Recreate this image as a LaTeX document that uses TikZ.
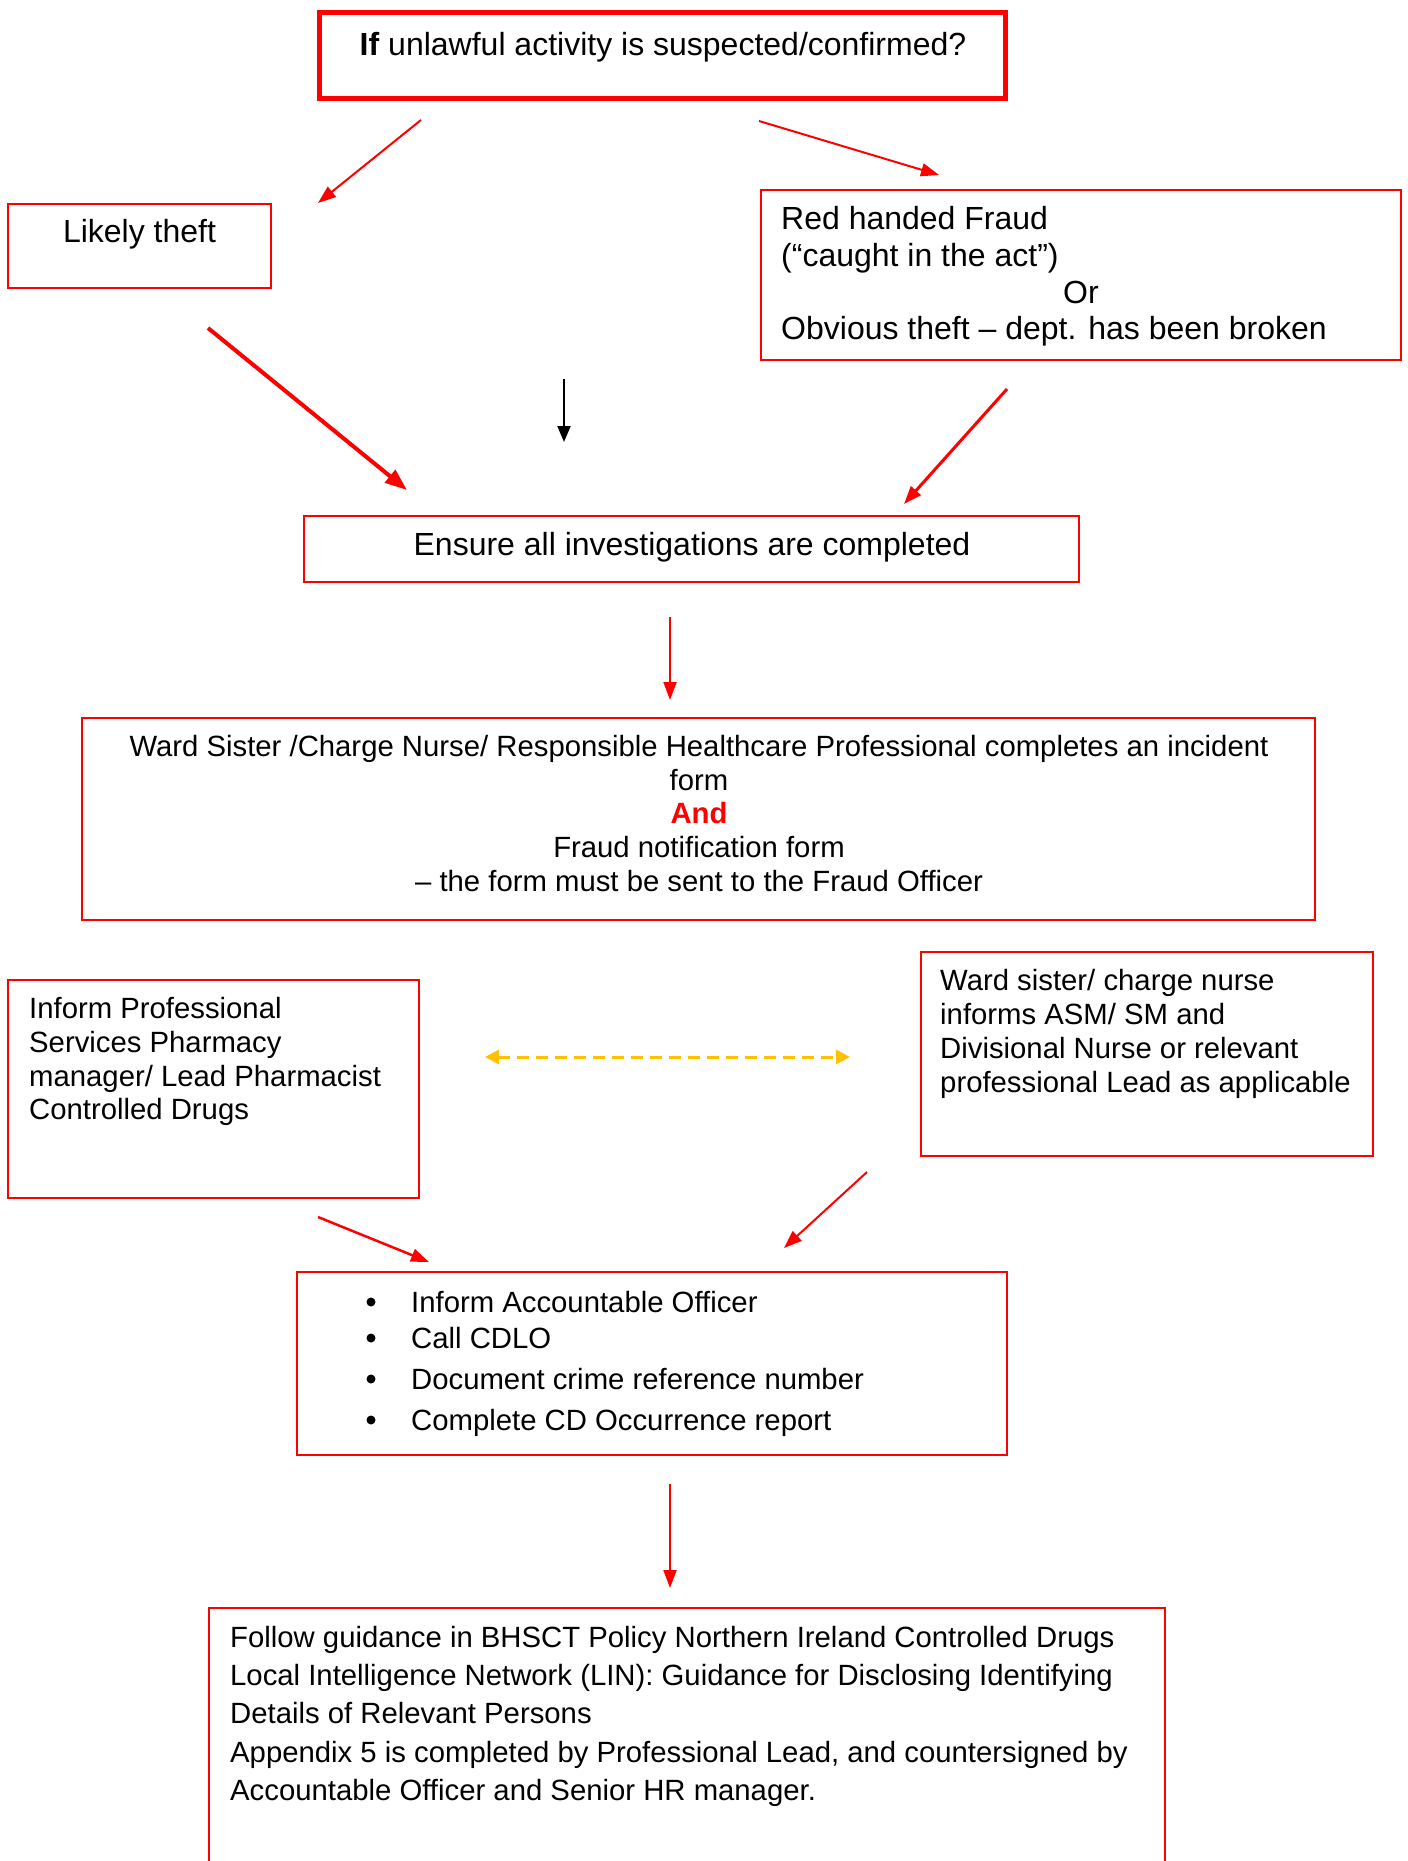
\documentclass[tikz,border=0pt]{standalone}
\usepackage{fontspec}
\setmainfont{Liberation Sans}
\usetikzlibrary{arrows.meta}
\definecolor{flowred}{RGB}{255,0,0}
\definecolor{linkgold}{RGB}{255,192,0}
\begin{document}
\begin{tikzpicture}[x=1pt,y=-1pt,
  box/.style={draw=flowred,line width=2pt,rectangle,inner sep=0pt},
  txt/.style={anchor=base west,inner sep=0pt,font=\fontsize{32}{38}\selectfont},
  ctxt/.style={txt,anchor=base},
  stxt/.style={anchor=base west,inner sep=0pt,font=\fontsize{29.3}{35}\selectfont},
  cstxt/.style={stxt,anchor=base},
  flow/.style={draw=flowred,line width=2pt,-{Triangle[length=18pt,width=13pt]}},
  dot/.style={circle,fill=black,inner sep=0pt,minimum size=9pt}]
\clip (0,0) rectangle (1408,1861);
\fill[white] (0,0) rectangle (1408,1861);

% boxes
\node[box,line width=5pt,minimum width=686pt,minimum height=86pt] (q) at (662.5,55.5) {};
\node[box,minimum width=263pt,minimum height=84pt] (theft) at (139.5,246) {};
\node[box,minimum width=640pt,minimum height=170pt] (fraud) at (1081,275) {};
\node[box,minimum width=775pt,minimum height=66pt] (ensure) at (691.5,549) {};
\node[box,minimum width=1233pt,minimum height=202pt] (ward) at (698.5,819) {};
\node[box,minimum width=411pt,minimum height=218pt] (pharm) at (213.5,1089) {};
\node[box,minimum width=452pt,minimum height=204pt] (nurse) at (1147,1054) {};
\node[box,minimum width=710pt,minimum height=183pt] (acts) at (652,1363.5) {};
\node[box,minimum width=956pt,minimum height=352pt] (guide) at (687,1784) {};

% texts, upper part
\node[ctxt] (tq) at (663,55) {\textbf{If} unlawful activity is suspected/confirmed?};
\node[ctxt] (tt) at (139.5,242) {Likely theft};
\node[txt] (tf1) at (781,229) {Red handed Fraud};
\node[txt] (tf2) at (781,266) {(“caught in the act”)};
\node[txt] (tf3) at (1063,303) {Or};
\node[txt] (tf4) at (781,339) {Obvious theft – dept. has been broken};
\node[ctxt] (te) at (692,555) {Ensure all investigations are completed};

% texts, lower part
\node[cstxt] (tw1) at (699,756) {Ward Sister /Charge Nurse/ Responsible Healthcare Professional completes an incident};
\node[cstxt] (tw2) at (699,790) {form};
\node[cstxt,text=flowred] (tw3) at (699,823) {\textbf{And}};
\node[cstxt] (tw4) at (699,857) {Fraud notification form};
\node[cstxt] (tw5) at (699,891) {– the form must be sent to the Fraud Officer};
\node[stxt] (tp1) at (29,1018) {Inform Professional};
\node[stxt] (tp2) at (29,1052) {Services Pharmacy};
\node[stxt] (tp3) at (29,1086) {manager/ Lead Pharmacist};
\node[stxt] (tp4) at (29,1119) {Controlled Drugs};
\node[stxt] (tn1) at (940,990) {Ward sister/ charge nurse};
\node[stxt] (tn2) at (940,1024) {informs ASM/ SM and};
\node[stxt] (tn3) at (940,1058) {Divisional Nurse or relevant};
\node[stxt] (tn4) at (940,1092) {professional Lead as applicable};
\foreach \y/\t [count=\i] in {1312/{Inform Accountable Officer},1348/{Call CDLO},1389/{Document crime reference number},1430/{Complete CD Occurrence report}}{
  \node[dot] (b\i) at (371,\y-10) {};
  \node[stxt] (ta\i) at (411,\y) {\t};
}
\node[stxt] (tg1) at (230,1647) {Follow guidance in BHSCT Policy Northern Ireland Controlled Drugs};
\node[stxt] (tg2) at (230,1685) {Local Intelligence Network (LIN): Guidance for Disclosing Identifying};
\node[stxt] (tg3) at (230,1723) {Details of Relevant Persons};
\node[stxt] (tg4) at (230,1762) {Appendix 5 is completed by Professional Lead, and countersigned by};
\node[stxt] (tg5) at (230,1800) {Accountable Officer and Senior HR manager.};

% connector ends
\coordinate (a1s) at (421,120);  \coordinate (a1e) at (318,203);
\coordinate (a2s) at (759,121);  \coordinate (a2e) at (939,175);
\coordinate (a3s) at (208,328);  \coordinate (a3e) at (407,490);
\coordinate (a4s) at (1007,389); \coordinate (a4e) at (904,504);
\coordinate (k1s) at (564,379);  \coordinate (k1e) at (564,442);
\coordinate (a5s) at (670,617);  \coordinate (a5e) at (670,700);
\coordinate (d1) at (485,1057);  \coordinate (d2) at (850,1057);
\coordinate (a6s) at (318,1217); \coordinate (a6e) at (429,1262);
\coordinate (a7s) at (867,1172); \coordinate (a7e) at (784,1248);
\coordinate (a8s) at (670,1484); \coordinate (a8e) at (670,1588);

% connectors
\draw[flow] (a1s) -- (a1e);
\draw[flow] (a2s) -- (a2e);
\draw[flow,line width=4pt,-{Triangle[length=22pt,width=16pt]}] (a3s) -- (a3e);
\draw[flow,line width=3pt] (a4s) -- (a4e);
\draw[line width=2pt,-{Triangle[length=16pt,width=13pt]}] (k1s) -- (k1e);
\draw[flow] (a5s) -- (a5e);
\draw[draw=linkgold,line width=3pt,dash pattern=on 12pt off 7pt,{Triangle[length=14pt,width=14pt]}-{Triangle[length=14pt,width=14pt]}] (d1) -- (d2);
\draw[flow,line width=2.5pt] (a6s) -- (a6e);
\draw[flow] (a7s) -- (a7e);
\draw[flow] (a8s) -- (a8e);
\end{tikzpicture}
\end{document}
